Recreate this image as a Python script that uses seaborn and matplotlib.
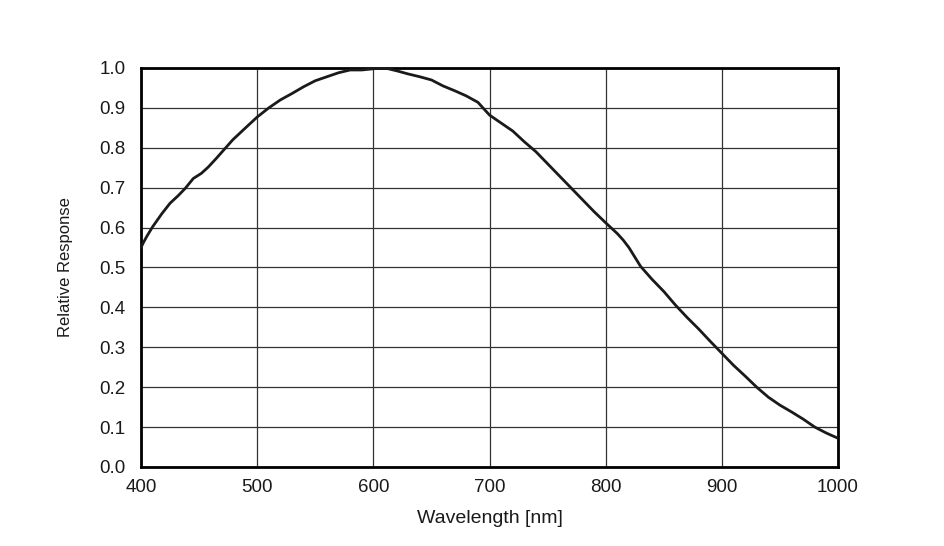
import matplotlib
matplotlib.use("Agg")
import matplotlib.pyplot as plt
import seaborn as sns
import pandas as pd

wavelength = [400, 402, 405, 410, 418, 425, 432, 438, 445, 452, 458, 465, 472, 479, 490, 500,
              510, 520, 530, 540, 550, 560, 570, 580, 590, 600, 610, 620, 630, 640,
              650, 660, 670, 680, 690, 700, 710, 720, 730, 740, 750, 760, 770, 780,
              790, 800, 810, 815, 820, 830, 840, 850, 860, 870, 880, 890, 900, 910, 920,
              930, 940, 950, 960, 970, 980, 990, 1000]
response = [0.55, 0.562, 0.578, 0.602, 0.635, 0.661, 0.68, 0.698, 0.723, 0.736, 0.752, 0.774,
            0.797, 0.82, 0.85, 0.877, 0.90, 0.92, 0.936, 0.953, 0.968, 0.978, 0.988, 0.995,
            0.995, 0.998, 1.0, 0.993, 0.985, 0.978, 0.97, 0.955, 0.943, 0.93, 0.914, 0.882,
            0.862, 0.842, 0.815, 0.79, 0.76, 0.73, 0.70, 0.67, 0.64, 0.612, 0.585, 0.569,
            0.55, 0.503, 0.47, 0.44, 0.406, 0.375, 0.346, 0.315, 0.285, 0.255, 0.228, 0.20,
            0.175, 0.155, 0.138, 0.12, 0.10, 0.085, 0.072]

xticks = [400, 500, 600, 700, 800, 900, 1000]
yticks = [0.0, 0.1, 0.2, 0.3, 0.4, 0.5, 0.6, 0.7, 0.8, 0.9, 1.0]

sns.set_style("white")
plt.rcParams['font.family'] = ['Liberation Sans', 'DejaVu Sans']

df = pd.DataFrame({"wl": wavelength, "resp": response})

fig = plt.figure(figsize=(9.45, 5.46), dpi=100)
ax = fig.add_axes([0.1492, 0.1447, 0.7376, 0.7308])

sns.lineplot(data=df, x="wl", y="resp", ax=ax, color="#1a1a1a", linewidth=2.0, zorder=3)

ax.set_xlim(400, 1000)
ax.set_ylim(0, 1.0)
ax.set_xticks(xticks)
ax.set_yticks(yticks)
ax.set_xticklabels([str(t) for t in xticks], fontsize=13.5)
ax.set_yticklabels([f"{t:.1f}" for t in yticks], fontsize=13.5)
ax.grid(True, color="#333333", linewidth=0.9)
ax.set_axisbelow(True)
for s in ax.spines.values():
    s.set_color("black")
    s.set_linewidth(2.0)
    s.set_visible(True)
ax.tick_params(axis="x", length=0, pad=9, colors="#1a1a1a")
ax.tick_params(axis="y", length=0, pad=11, colors="#1a1a1a")
ax.set_xlabel("Wavelength [nm]", fontsize=14, color="#1a1a1a")
ax.set_ylabel("Relative Response", fontsize=12, color="#1a1a1a")
ax.xaxis.set_label_coords(0.5, -0.108)
ax.yaxis.set_label_coords(-0.098, 0.5)

fig.savefig("out.png", dpi=100)
